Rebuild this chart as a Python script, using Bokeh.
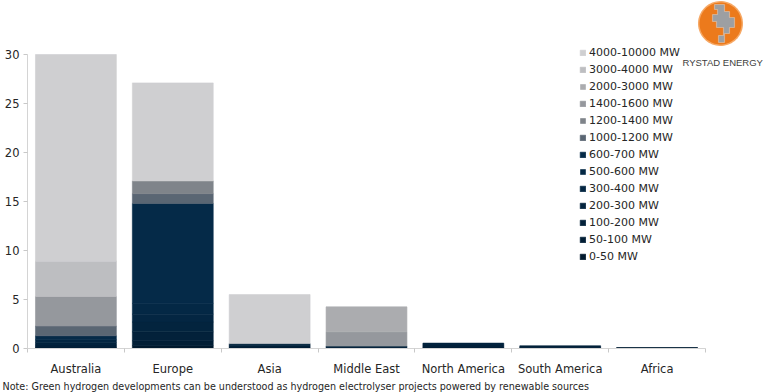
import numpy as np
from bokeh.plotting import figure
from bokeh.models import Range1d, FixedTicker, Legend, LegendItem, Label, PolyAnnotation, Title
from bokeh.embed import file_html
from bokeh.resources import INLINE

# ---------------- data ----------------
regions = ["Australia", "Europe", "Asia", "Middle East", "North America", "South America", "Africa"]

bands = ["0-50 MW", "50-100 MW", "100-200 MW", "200-300 MW", "300-400 MW", "500-600 MW",
         "600-700 MW", "1000-1200 MW", "1200-1400 MW", "1400-1600 MW", "2000-3000 MW",
         "3000-4000 MW", "4000-10000 MW"]

band_0_50 = [0.05, 0.3, 0.05, 0.03, 0.05, 0.05, 0.05]
band_50_100 = [0.1, 0.5, 0.1, 0.05, 0.1, 0.08, 0.05]
band_100_200 = [0.2, 0.9, 0.15, 0.1, 0.2, 0.15, 0.0]
band_200_300 = [0.25, 1.0, 0.2, 0.07, 0.2, 0.0, 0.0]
band_300_400 = [0.3, 0.8, 0.0, 0.0, 0.0, 0.0, 0.0]
band_500_600 = [0.0, 1.1, 0.0, 0.0, 0.0, 0.0, 0.0]
band_600_700 = [0.4, 10.2, 0.0, 0.0, 0.0, 0.0, 0.0]
band_1000_1200 = [1.0, 1.0, 0.0, 0.0, 0.0, 0.0, 0.0]
band_1200_1400 = [0.0, 1.3, 0.0, 0.0, 0.0, 0.0, 0.0]
band_1400_1600 = [3.0, 0.0, 0.0, 1.45, 0.0, 0.0, 0.0]
band_2000_3000 = [0.0, 0.0, 0.0, 2.55, 0.0, 0.0, 0.0]
band_3000_4000 = [3.6, 0.0, 0.0, 0.0, 0.0, 0.0, 0.0]
band_4000_10000 = [21.1, 10.0, 5.0, 0.0, 0.0, 0.0, 0.0]

y_ticks = [0, 5, 10, 15, 20, 25, 30]

note_text = ("Note: Green hydrogen developments can be understood as hydrogen "
             "electrolyser projects powered by renewable sources")

band_values = [band_0_50, band_50_100, band_100_200, band_200_300, band_300_400,
               band_500_600, band_600_700, band_1000_1200, band_1200_1400,
               band_1400_1600, band_2000_3000, band_3000_4000, band_4000_10000]

colors = ["#011a2e", "#021e35", "#03213a", "#03243e", "#042642", "#042845", "#052a48",
          "#5a6673", "#7f848a", "#95989d", "#abacaf", "#bdbec1", "#cfcfd1"]

FONT = "DejaVu Sans"
TXT = "#262626"

# frame geometry (page pixels): left edge, bottom edge, px per unit
FRAME_L = 27
FRAME_B = 348
W, H = 765, 392
PX_X = (705 - FRAME_L) / len(regions)
PX_Y = (FRAME_B - 54) / 30.0

# ---------------- figure ----------------
p = figure(width=W, height=H, output_backend="svg", toolbar_location=None,
           x_range=Range1d(0, (W - FRAME_L) / PX_X), y_range=Range1d(0, FRAME_B / PX_Y),
           min_border_left=FRAME_L, min_border_right=0, min_border_top=0,
           min_border_bottom=H - FRAME_B)
p.outline_line_color = None
p.xgrid.visible = False
p.ygrid.visible = False
p.background_fill_color = "white"
p.border_fill_color = "white"

xs = [i + 0.5 for i in range(len(regions))]
data = {"x": xs}
for b, v in zip(bands, band_values):
    data[b] = v
    data["la_" + b] = [1.0 if val > 0 else 0.0 for val in v]

renderers = p.vbar_stack(bands, x="x", width=0.835, source=data, fill_color=colors,
                         line_color=colors, line_width=0.6,
                         line_alpha=["la_" + b for b in bands])

# axes
xa = p.xaxis[0]
xa.bounds = (0, len(regions))
xa.ticker = FixedTicker(ticks=xs, minor_ticks=list(range(len(regions) + 1)))
xa.major_label_overrides = {x: r for x, r in zip(xs, regions)}
xa.major_tick_out = 0
xa.major_tick_in = 0
xa.minor_tick_out = 4
xa.minor_tick_in = 0
xa.minor_tick_line_color = "#c8c8c8"
xa.axis_line_color = "#d4d4d4"
xa.major_label_text_font = FONT
xa.major_label_text_font_size = "11.5px"
xa.major_label_text_color = TXT
xa.major_label_standoff = 9

ya = p.yaxis[0]
ya.bounds = (0, 30)
ya.ticker = FixedTicker(ticks=y_ticks)
ya.major_tick_out = 4
ya.major_tick_in = 0
ya.minor_tick_line_color = None
ya.major_tick_line_color = "#c8c8c8"
ya.axis_line_color = "#d4d4d4"
ya.major_label_text_font = FONT
ya.major_label_text_font_size = "11.5px"
ya.major_label_text_color = TXT
ya.major_label_standoff = 4

# legend (location = bottom-left corner, from frame bottom-left)
items = [LegendItem(label=b, renderers=[r]) for b, r in zip(bands, renderers)][::-1]
legend = Legend(items=items, location=(579 - FRAME_L, FRAME_B - 263),
                glyph_width=7, glyph_height=7, label_standoff=3, spacing=4,
                label_height=13, padding=0, margin=0,
                label_text_font=FONT, label_text_font_size="11px",
                label_text_color=TXT, background_fill_alpha=0,
                border_line_color=None)
p.add_layout(legend, "center")

# note below the axis
p.add_layout(Title(text=note_text, align="left", offset=2 - FRAME_L, standoff=0,
                   text_font=FONT, text_font_size="9.6px", text_font_style="normal",
                   text_color=TXT), "below")

# logo (decoration)
cx, cy, rr = 720, 23, 21
ang = np.linspace(0, 2 * np.pi, 72)
p.add_layout(PolyAnnotation(xs=list(cx + (rr + 1.5) * np.cos(ang) - FRAME_L),
                            ys=list(FRAME_B - (cy + (rr + 1.5) * np.sin(ang))),
                            xs_units="screen", ys_units="screen",
                            fill_color="#f6a865", fill_alpha=1, line_color=None))
p.add_layout(PolyAnnotation(xs=list(cx + rr * np.cos(ang) - FRAME_L),
                            ys=list(FRAME_B - (cy + rr * np.sin(ang))),
                            xs_units="screen", ys_units="screen",
                            fill_color="#ec7a1c", fill_alpha=1, line_color=None))
gx = [-6, 4, 4, 9, 9, 14, 14, 9, 9, 4, 4, -2, -2, 3, 3, -4, -4, -8, -8, -3, -3, -6]
gy = [-19, -19, -12, -12, -6, -6, 4, 4, 10, 10, 19, 19, 12, 12, 4, 4, -2, -2, -9, -9, -14, -14]
p.add_layout(PolyAnnotation(xs=[cx + a - FRAME_L for a in gx],
                            ys=[FRAME_B - (cy + b) for b in gy],
                            xs_units="screen", ys_units="screen",
                            fill_color="#9d9fa2", fill_alpha=1, line_color="white",
                            line_width=1.2))
p.add_layout(Label(x=682 - FRAME_L, y=FRAME_B - 62, x_units="screen", y_units="screen",
                   text="RYSTAD ENERGY", text_font="Liberation Sans", text_font_size="9.5px",
                   text_color="#404040", text_baseline="alphabetic"))

open("out.html", "w").write(file_html(p, INLINE))
